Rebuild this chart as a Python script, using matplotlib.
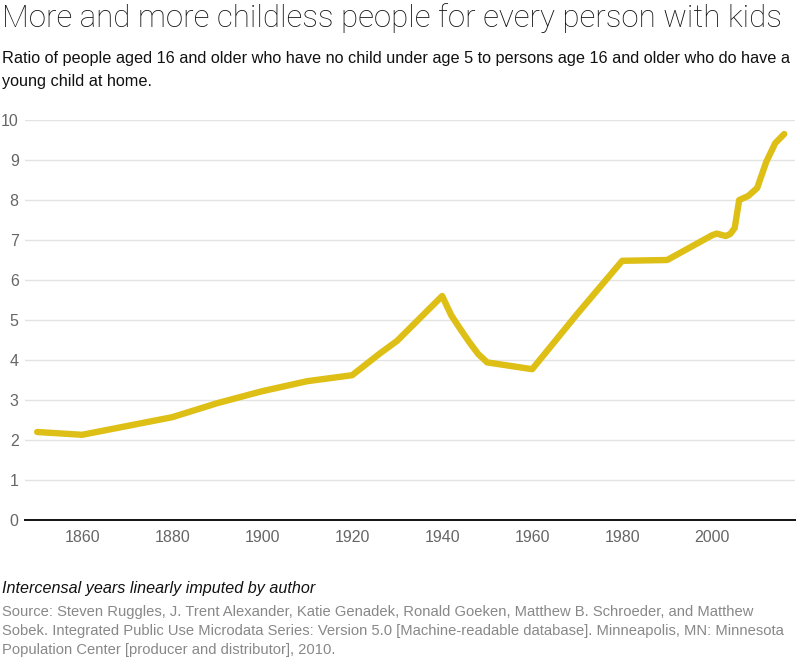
import matplotlib
matplotlib.use("Agg")
import matplotlib.pyplot as plt

years = [1850, 1860, 1870, 1880, 1890, 1900, 1910, 1920, 1926, 1930, 1940,
         1942, 1944, 1946, 1948, 1950, 1960, 1970, 1980, 1990, 2000, 2001,
         2003, 2004, 2005, 2006, 2007, 2008, 2010, 2012, 2014, 2016]
ratio = [2.2, 2.13, 2.35, 2.57, 2.92, 3.22, 3.47, 3.62, 4.15, 4.48, 5.6,
         5.12, 4.78, 4.45, 4.15, 3.94, 3.77, 5.15, 6.48, 6.5, 7.12, 7.16,
         7.1, 7.15, 7.3, 8.0, 8.05, 8.1, 8.3, 8.95, 9.42, 9.65]
x_ticks = [1860, 1880, 1900, 1920, 1940, 1960, 1980, 2000]
y_ticks = list(range(0, 11))

title = "More and more childless people for every person with kids"
subtitle = ("Ratio of people aged 16 and older who have no child under age 5 to persons age 16 and older who do have a\n"
            "young child at home.")
note = "Intercensal years linearly imputed by author"
source = ("Source: Steven Ruggles, J. Trent Alexander, Katie Genadek, Ronald Goeken, Matthew B. Schroeder, and Matthew\n"
          "Sobek. Integrated Public Use Microdata Series: Version 5.0 [Machine-readable database]. Minneapolis, MN: Minnesota\n"
          "Population Center [producer and distributor], 2010.")

plt.rcParams['font.family'] = ['Liberation Sans', 'DejaVu Sans']

W, H = 800, 664
fig = plt.figure(figsize=(W / 100, H / 100), dpi=100)
fig.patch.set_facecolor('white')

# axes: x pixels 25..795, y pixels 120 (value 10) .. 520 (value 0)
ax = fig.add_axes([25 / W, (H - 520) / H, 770 / W, 400 / H])
ax.set_xlim(1847.3, 2018.4)
ax.set_ylim(0, 10)
ax.plot(years, ratio, color='#DEBF16', lw=4.6, solid_capstyle='round',
        solid_joinstyle='round', clip_on=False, zorder=3)

ax.set_yticks(y_ticks)
ax.set_xticks(x_ticks)
ax.grid(axis='y', color='#e3e3e3', lw=1)
ax.grid(axis='x', visible=False)
ax.set_axisbelow(True)
for s in ['top', 'right', 'left']:
    ax.spines[s].set_visible(False)
ax.spines['bottom'].set_color('#111111')
ax.spines['bottom'].set_linewidth(1.4)
ax.spines['bottom'].set_zorder(2)
ax.tick_params(axis='both', length=0, labelsize=11.5, labelcolor='#666666')
ax.tick_params(axis='y', pad=4.5)
ax.tick_params(axis='x', pad=7)
for lbl in ax.get_yticklabels():
    lbl.set_horizontalalignment('right')

fig.text(2 / W, 1 - 3 / H, title, fontsize=22.5, va='top', ha='left', color='#111111',
         family=['Roboto', 'DejaVu Sans'], fontweight='light')
fig.text(2 / W, 1 - 51 / H, subtitle, fontsize=11.7, va='top', ha='left', color='#111111',
         linespacing=1.7)
fig.text(2 / W, 1 - 581 / H, note, fontsize=11.65, va='top', ha='left', color='#111111',
         style='italic')
fig.text(2 / W, 1 - 605 / H, source, fontsize=10.65, va='top', ha='left', color='#888888',
         linespacing=1.45)

fig.savefig('out.png', dpi=100, facecolor='white')
